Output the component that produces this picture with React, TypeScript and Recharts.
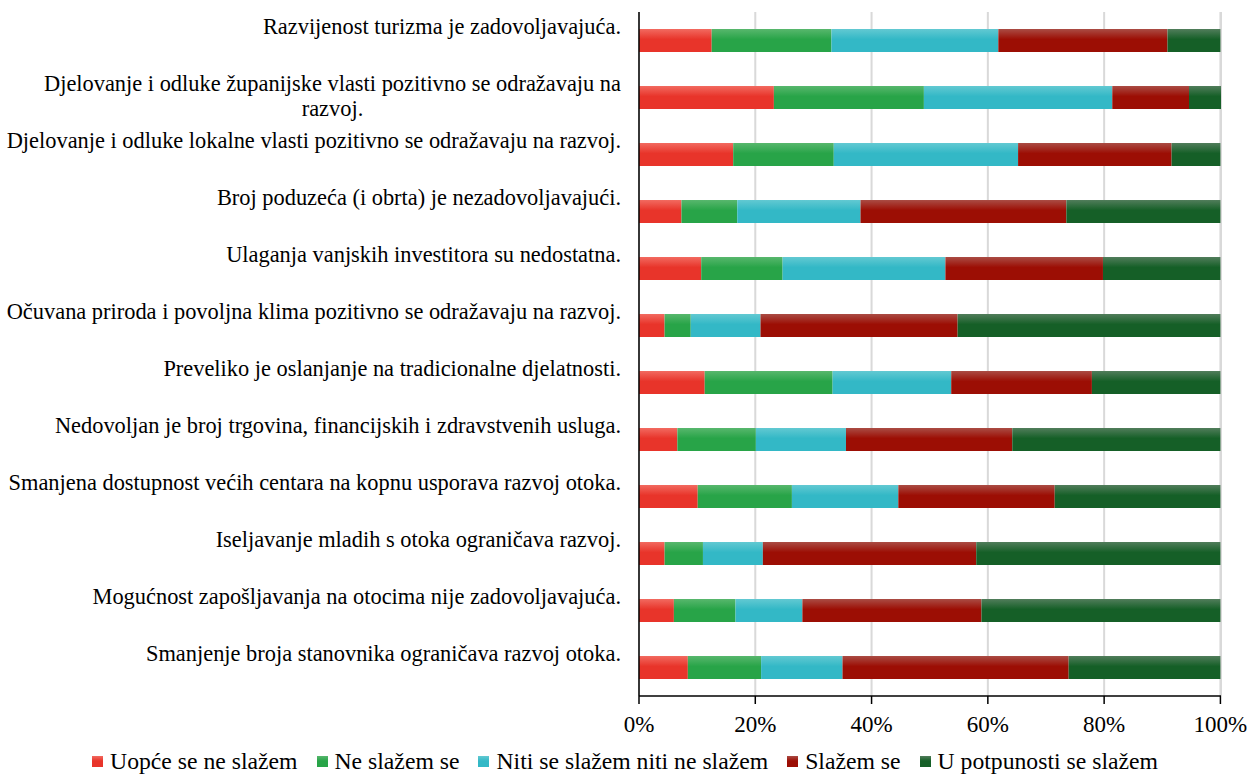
import React from "react";
import {
  BarChart,
  Bar,
  XAxis,
  YAxis,
  CartesianGrid,
  Legend,
} from "recharts";

const categories = [
  "Razvijenost turizma je zadovoljavajuća.",
  "Djelovanje i odluke županijske vlasti pozitivno se odražavaju na razvoj.",
  "Djelovanje i odluke lokalne vlasti pozitivno se odražavaju na razvoj.",
  "Broj poduzeća (i obrta) je nezadovoljavajući.",
  "Ulaganja vanjskih investitora su nedostatna.",
  "Očuvana priroda i povoljna klima pozitivno se odražavaju na razvoj.",
  "Preveliko je oslanjanje na tradicionalne djelatnosti.",
  "Nedovoljan je broj trgovina, financijskih i zdravstvenih usluga.",
  "Smanjena dostupnost većih centara na kopnu usporava razvoj otoka.",
  "Iseljavanje mladih s otoka ograničava razvoj.",
  "Mogućnost zapošljavanja na otocima nije zadovoljavajuća.",
  "Smanjenje broja stanovnika ograničava razvoj otoka.",
];

const uopce = [12.5, 23.2, 16.2, 7.3, 10.7, 4.4, 11.3, 6.6, 10.1, 4.4, 6.0, 8.4];
const neSlazem = [20.6, 25.8, 17.3, 9.6, 14.0, 4.5, 22.0, 13.5, 16.2, 6.6, 10.6, 12.6];
const niti = [28.7, 32.4, 31.7, 21.2, 28.0, 12.0, 20.4, 15.5, 18.3, 10.3, 11.5, 14.0];
const slazem = [29.1, 13.2, 26.4, 35.4, 27.1, 33.9, 24.2, 28.6, 26.9, 36.7, 30.8, 38.9];
const potpuno = [9.1, 5.5, 8.4, 26.5, 20.2, 45.2, 22.1, 35.8, 28.5, 42.0, 41.1, 26.1];

const xTicks = [0, 20, 40, 60, 80, 100];

const series = [
  { key: "uopce", name: "Uopće se ne slažem", light: "#f26a60", base: "#e8342a", values: uopce },
  { key: "neSlazem", name: "Ne slažem se", light: "#58b76d", base: "#28a448", values: neSlazem },
  { key: "niti", name: "Niti se slažem niti ne slažem", light: "#62c9d2", base: "#33b8c6", values: niti },
  { key: "slazem", name: "Slažem se", light: "#aa4c44", base: "#9c0e04", values: slazem },
  { key: "potpuno", name: "U potpunosti se slažem", light: "#517d5b", base: "#155f27", values: potpuno },
];

const data = categories.map((name, i) => {
  const row: Record<string, string | number> = { name };
  series.forEach((s) => {
    row[s.key] = s.values[i];
  });
  return row;
});

const FONT = "'Liberation Serif', 'Times New Roman', serif";
const LABEL_SIZE = 22.4;

let ctx: CanvasRenderingContext2D | null = null;
function textWidth(s: string) {
  if (!ctx) ctx = document.createElement("canvas").getContext("2d");
  if (!ctx) return s.length * 10;
  ctx.font = `${LABEL_SIZE}px ${FONT}`;
  return ctx.measureText(s).width;
}

function wrap(label: string, maxW: number) {
  const words = label.split(" ");
  const lines: string[] = [];
  let cur = "";
  words.forEach((w) => {
    const next = cur ? cur + " " + w : w;
    if (cur && textWidth(next) > maxW) {
      lines.push(cur);
      cur = w;
    } else {
      cur = next;
    }
  });
  if (cur) lines.push(cur);
  return lines;
}

// wrapped labels: block right-aligned to the axis, lines centred inside it
function CategoryTick(props: any) {
  const { x, y, payload } = props;
  const lines = wrap(payload.value, 625);
  const blockW = Math.max(...lines.map(textWidth));
  const cx = x - blockW / 2;
  return (
    <text
      x={cx}
      y={y - 7}
      textAnchor="middle"
      fontFamily={FONT}
      fontSize={LABEL_SIZE}
      fill="#000"
    >
      {lines.map((l, i) => (
        <tspan key={i} x={cx} dy={i === 0 ? 0 : 25}>
          {l}
        </tspan>
      ))}
    </text>
  );
}

function LegendContent() {
  return (
    <div
      style={{
        display: "flex",
        justifyContent: "center",
        alignItems: "center",
        height: 48,
        paddingTop: 22,
        boxSizing: "border-box",
        fontFamily: FONT,
        fontSize: 23.7,
        color: "#000",
      }}
    >
      {series.map((s, i) => (
        <div
          key={s.key}
          style={{ display: "flex", alignItems: "center", marginRight: i < series.length - 1 ? 19 : 0 }}
        >
          <span
            style={{
              display: "inline-block",
              width: 11,
              height: 11,
              marginRight: 7,
              background: `linear-gradient(${s.light}, ${s.base} 45%)`,
            }}
          />
          <span>{s.name}</span>
        </div>
      ))}
    </div>
  );
}

export default function App() {
  return (
    <div style={{ position: "absolute", left: 0, top: 0, background: "#fff" }}>
      <BarChart
        width={1250}
        height={774}
        data={data}
        layout="vertical"
        barSize={23}
        margin={{ top: 12, right: 29, left: 0, bottom: 0 }}
      >
        <defs>
          {series.map((s) => (
            <linearGradient key={s.key} id={`g-${s.key}`} x1="0" y1="0" x2="0" y2="1">
              <stop offset="0%" stopColor={s.light} />
              <stop offset="45%" stopColor={s.base} />
              <stop offset="100%" stopColor={s.base} />
            </linearGradient>
          ))}
        </defs>
        <CartesianGrid horizontal={false} stroke="#d9d9d9" strokeWidth={2} />
        <XAxis
          type="number"
          domain={[0, 100]}
          ticks={xTicks}
          tickFormatter={(v: number) => `${v}%`}
          height={30}
          tickSize={8}
          tickMargin={12}
          axisLine={{ stroke: "#000", strokeWidth: 1.5 }}
          tickLine={{ stroke: "#000", strokeWidth: 1.5 }}
          tick={{ fill: "#000", fontSize: 23, fontFamily: FONT }}
          interval={0}
        />
        <YAxis
          type="category"
          dataKey="name"
          width={639}
          tickSize={0}
          tickMargin={18}
          interval={0}
          axisLine={{ stroke: "#000", strokeWidth: 1.5 }}
          tickLine={false}
          tick={<CategoryTick />}
        />
        <Legend
          verticalAlign="bottom"
          height={48}
          wrapperStyle={{ left: 0, width: 1250 }}
          content={<LegendContent />}
        />
        {series.map((s) => (
          <Bar
            key={s.key}
            dataKey={s.key}
            name={s.name}
            stackId="a"
            fill={`url(#g-${s.key})`}
            isAnimationActive={false}
          />
        ))}
      </BarChart>
    </div>
  );
}
